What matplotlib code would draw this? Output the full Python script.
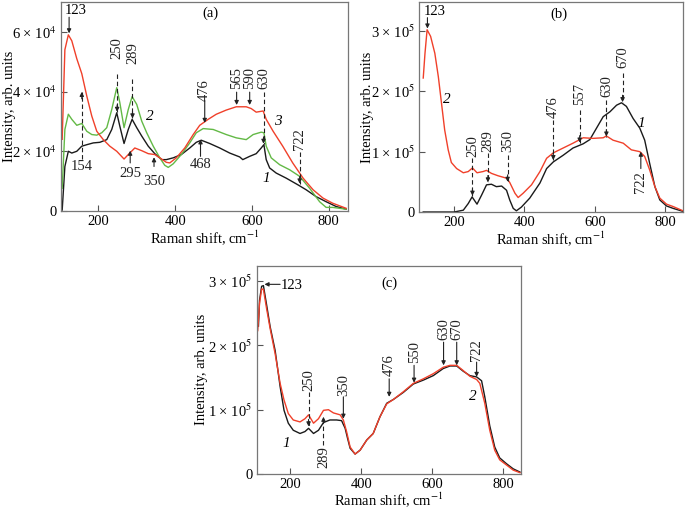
import matplotlib
matplotlib.use("Agg")
import matplotlib.pyplot as plt
from matplotlib.ticker import FuncFormatter

plt.rcParams['font.family'] = ['Liberation Serif', 'DejaVu Serif']
plt.rcParams['mathtext.fontset'] = 'stix'
plt.rcParams['font.size'] = 10

RED = '#f0402a'
GREEN = '#63b946'
BLACK = '#1a1a1a'

# ---------------- panel (a), intensity in units of 1e4 ----------------
a_x1 = [106,113,122,131,144,157,170,187,204,222,235,248,256,267,278,288,300,313,330,347,
        365,377,395,416,438,455,468,490,516,542,568,576,594,611,624,631,637,646,663,689,
        719,741,767,793,819,845]
a_y1 = [0.03,1.49,2.0,1.94,2.0,2.17,2.22,2.28,2.30,2.39,2.73,3.29,2.84,2.26,2.73,3.07,2.79,2.51,2.17,1.92,
        1.72,1.72,1.78,1.89,2.11,2.30,2.37,2.26,2.11,1.94,1.81,1.72,1.83,1.92,2.11,2.22,1.72,1.44,1.27,1.10,
        0.88,0.71,0.48,0.31,0.15,0.06]
a_x2 = [106,113,122,131,144,157,170,183,196,209,222,235,248,256,267,278,288,300,313,326,
        343,360,373,382,395,416,438,455,473,499,533,559,585,603,624,631,637,650,672,698,
        724,750,776,793,810,845]
a_y2 = [0.76,2.73,3.24,3.07,2.87,2.93,2.67,2.56,2.54,2.62,2.79,3.40,4.13,3.63,2.79,3.40,3.83,3.57,3.01,2.62,
        2.17,1.78,1.53,1.46,1.58,1.89,2.28,2.62,2.76,2.73,2.56,2.45,2.39,2.56,2.64,2.62,2.17,1.78,1.55,1.38,
        1.16,0.76,0.31,0.12,0.12,0.06]
a_x3 = [106,113,122,131,144,157,170,183,196,213,230,248,267,278,295,313,330,347,360,377,
        386,403,425,447,464,486,507,533,559,585,598,611,629,637,655,680,706,733,759,785,
        810,845]
a_y3 = [2.4,5.4,5.9,5.7,5.1,4.6,3.85,3.18,2.67,2.39,2.17,2.0,1.74,1.89,2.11,2.02,1.92,1.89,1.78,1.63,
        1.61,1.78,2.11,2.56,2.87,3.07,3.24,3.38,3.49,3.49,3.43,3.31,3.35,3.07,2.67,2.17,1.61,1.10,0.71,0.43,
        0.26,0.09]

# ---------------- panel (b), units of 1e5 ----------------
b_x1 = [112,150,200,226,240,251,265,278,292,306,320,335,349,358,368,377,391,415,444,463,
        482,510,538,567,586,605,624,643,662,676,690,709,728,742,756,771,785,804,823,851]
b_y1 = [0.0,0.0,0.0,0.03,0.14,0.25,0.13,0.28,0.45,0.46,0.42,0.43,0.36,0.20,0.06,0.02,0.08,0.23,0.48,0.72,
        0.83,0.94,1.06,1.13,1.20,1.39,1.58,1.66,1.77,1.81,1.75,1.55,1.39,1.19,0.81,0.42,0.20,0.10,0.06,0.01]
b_x2 = [112,117,123,133,145,155,164,173,183,192,207,226,240,252,265,282,292,306,325,349,
        358,373,382,396,420,444,463,482,510,538,567,595,624,633,652,681,704,728,742,756,
        771,785,804,823,851]
b_y2 = [2.22,2.63,3.02,2.91,2.63,2.24,1.80,1.36,1.03,0.82,0.72,0.65,0.67,0.73,0.65,0.67,0.69,0.64,0.60,0.56,
        0.49,0.31,0.24,0.31,0.45,0.67,0.89,0.98,1.06,1.14,1.23,1.22,1.23,1.26,1.19,1.14,1.03,1.0,0.92,0.70,
        0.42,0.23,0.13,0.09,0.02]

# ---------------- panel (c), units of 1e5 ----------------
c_x1 = [111,114,120,125,134,144,158,172,183,195,209,228,242,252,266,280,294,312,331,345,
        355,362,369,383,397,416,434,453,472,491,519,547,575,603,631,650,669,687,706,725,
        739,748,762,776,790,809,828,847]
c_y1 = [2.3,2.7,2.92,2.93,2.63,2.29,1.92,1.36,0.99,0.79,0.68,0.63,0.66,0.71,0.63,0.68,0.80,0.84,0.84,0.83,
        0.71,0.55,0.40,0.31,0.37,0.53,0.63,0.89,1.10,1.16,1.27,1.40,1.46,1.53,1.64,1.68,1.68,1.60,1.53,1.51,
        1.45,1.20,0.75,0.42,0.25,0.16,0.08,0.03]
c_x2 = [109,114,120,125,134,144,158,172,183,195,209,228,242,252,266,280,294,308,322,341,
        350,359,369,383,397,416,434,453,472,491,519,547,575,603,631,650,669,687,706,725,
        734,748,762,776,790,809,828,847]
c_y2 = [2.23,2.65,2.88,2.87,2.57,2.26,1.87,1.41,1.15,0.94,0.84,0.81,0.86,0.92,0.79,0.86,0.99,1.0,0.95,0.92,
        0.84,0.66,0.42,0.31,0.37,0.53,0.63,0.89,1.09,1.16,1.28,1.41,1.48,1.56,1.66,1.69,1.69,1.61,1.52,1.47,
        1.41,1.10,0.68,0.37,0.22,0.14,0.06,0.02]

x_ticks = [200, 400, 600, 800]
a_yticks = [0, 2, 4, 6]
b_yticks = [0, 1, 2, 3]
c_yticks = [0, 1, 2, 3]

# annotations: (label, x, text_y, arrow_start_y, arrow_end_y, dashed, rotated)
a_notes = [('250', 249, 5.45, 4.58, 3.32, True, True),
           ('289', 289, 5.30, 4.42, 3.10, True, True),
           ('154', 157, 1.50, 1.75, 3.99, True, False),
           ('295', 283, 1.27, 1.61, 2.02, False, False),
           ('350', 345, 0.99, 1.49, 1.80, False, False),
           ('468', 466, 1.55, 1.83, 2.40, False, False),
           ('476', 477, 4.05, 3.70, 2.95, False, True),
           ('565', 560, 4.45, 3.98, 3.55, False, True),
           ('590', 594, 4.45, 3.98, 3.55, False, True),
           ('630', 630, 4.45, 3.98, 2.25, True, True),
           ('722', 724, 2.40, 1.97, 0.92, True, True)]
b_notes = [('250', 252, 1.10, 0.89, 0.27, True, True),
           ('289', 296, 1.18, 0.97, 0.49, True, True),
           ('350', 352, 1.17, 0.94, 0.50, True, True),
           ('476', 482, 1.73, 1.52, 0.86, True, True),
           ('557', 557, 1.96, 1.69, 1.15, True, True),
           ('630', 633, 2.09, 1.86, 1.25, True, True),
           ('670', 679, 2.57, 2.30, 1.82, True, True),
           ('722', 731, 0.50, 0.72, 1.00, False, True)]
c_notes = [('250', 252, 1.46, 1.28, 0.74, True, True),
           ('289', 294, 0.27, 0.45, 0.89, True, True),
           ('350', 350, 1.38, 1.20, 0.86, False, True),
           ('476', 479, 1.69, 1.48, 1.20, False, True),
           ('550', 549, 1.90, 1.69, 1.42, False, True),
           ('630', 632, 2.26, 2.05, 1.69, False, True),
           ('670', 669, 2.26, 2.05, 1.69, False, True),
           ('722', 725, 1.92, 1.74, 1.51, False, True)]


def sci_fmt(exp):
    def f(v, pos):
        if v == 0:
            return '0'
        return '%d × 10$^{%d}$' % (round(v / 10 ** exp), exp)
    return f


def style(ax, ylim, yticks, exp, ylab_x):
    ax.set_xlim(103, 850)
    ax.set_ylim(0, ylim)
    ax.set_xticks(x_ticks)
    ax.set_yticks([t * 10 ** exp for t in yticks])
    ax.yaxis.set_major_formatter(FuncFormatter(sci_fmt(exp)))
    ax.tick_params(direction='in', length=4, width=0.8, color='#555555',
                   labelsize=10.5, top=False, right=False, pad=3)
    for s in ax.spines.values():
        s.set_color('#777777')
        s.set_linewidth(0.9)
    xl = ax.set_xlabel(r'Raman shift, cm$^{-1}$', fontsize=10.5)
    xl.set_va('center')
    ax.xaxis.set_label_coords(0.5, -0.125)
    yl = ax.set_ylabel('Intensity, arb. units', fontsize=10.5)
    yl.set_va('center')
    ax.yaxis.set_label_coords(ylab_x, 0.5)


def arrow(ax, x0, y0, x1, y1, dashed):
    if dashed:
        ax.plot([x0, x1], [y0, y1], ls=(0, (4, 2.5)), color='#222222', lw=0.8)
        dx = 0 if x0 == x1 else (5 if x0 > x1 else -5)
        dy = 0 if y0 == y1 else (5 if y0 > y1 else -5)
        ax.annotate('', xy=(x1, y1), xytext=(dx, dy), textcoords='offset points',
                    arrowprops=dict(arrowstyle='-|>', color='#222222', lw=0.8,
                                    mutation_scale=6, shrinkA=0, shrinkB=0))
    else:
        ax.annotate('', xy=(x1, y1), xytext=(x0, y0),
                    arrowprops=dict(arrowstyle='-|>', color='#222222', lw=0.8,
                                    mutation_scale=6, shrinkA=0, shrinkB=0))


def notes(ax, items, scale):
    for lab, x, ty, y0, y1, dashed, rot in items:
        ax.text(x, ty * scale, lab, rotation=90 if rot else 0, ha='center', va='center',
                fontsize=10.5, color='#222222')
        arrow(ax, x, y0 * scale, x, y1 * scale, dashed)


fig = plt.figure(figsize=(6.85, 5.09), dpi=100)

# (a)
axa = fig.add_axes([0.0891, 0.5855, 0.419, 0.4106])
axa.plot(a_x1, [v * 1e4 for v in a_y1], color=BLACK, lw=1.0)
axa.plot(a_x2, [v * 1e4 for v in a_y2], color=GREEN, lw=1.0)
axa.plot(a_x3, [v * 1e4 for v in a_y3], color=RED, lw=1.0)
style(axa, 7e4, a_yticks, 4, -0.178)
notes(axa, a_notes, 1e4)
axa.text(140, 6.72e4, '123', ha='center', va='center', fontsize=10.5)
arrow(axa, 124, 6.49e4, 124, 5.95e4, False)
axa.text(334, 3.18e4, '2', style='italic', ha='center', va='center', fontsize=11)
axa.text(667, 3.01e4, '3', style='italic', ha='center', va='center', fontsize=11)
axa.text(637, 1.10e4, '1', style='italic', ha='center', va='center', fontsize=11)
axa.text(492, 6.61e4, '(a)', ha='center', va='center', fontsize=10.5)

# (b)
axb = fig.add_axes([0.6117, 0.5835, 0.3854, 0.4126])
axb.plot(b_x1, [v * 1e5 for v in b_y1], color=BLACK, lw=1.0)
axb.plot(b_x2, [v * 1e5 for v in b_y2], color=RED, lw=1.0)
style(axb, 3.48e5, b_yticks, 5, -0.197)
axb.set_xlim(100, 851)
notes(axb, b_notes, 1e5)
axb.text(145, 3.33e5, '123', ha='center', va='center', fontsize=10.5)
arrow(axb, 124, 3.22e5, 124, 3.04e5, False)
axb.text(180, 1.86e5, '2', style='italic', ha='center', va='center', fontsize=11)
axb.text(733, 1.47e5, '1', style='italic', ha='center', va='center', fontsize=11)
axb.text(498, 3.27e5, '(b)', ha='center', va='center', fontsize=10.5)

# (c)
axc = fig.add_axes([0.3747, 0.0688, 0.3854, 0.4092])
axc.plot(c_x1, [v * 1e5 for v in c_y1], color=BLACK, lw=1.0)
axc.plot(c_x2, [v * 1e5 for v in c_y2], color=RED, lw=1.0)
style(axc, 3.24e5, c_yticks, 5, -0.208)
axc.set_xlim(106, 849)
notes(axc, c_notes, 1e5)
axc.text(174, 2.93e5, '123', ha='left', va='center', fontsize=10.5)
arrow(axc, 172, 2.95e5, 128, 2.95e5, False)
axc.text(189, 0.48e5, '1', style='italic', ha='center', va='center', fontsize=11)
axc.text(715, 1.20e5, '2', style='italic', ha='center', va='center', fontsize=11)
axc.text(479, 2.96e5, '(c)', ha='center', va='center', fontsize=10.5)

fig.savefig('out.png', dpi=100)
